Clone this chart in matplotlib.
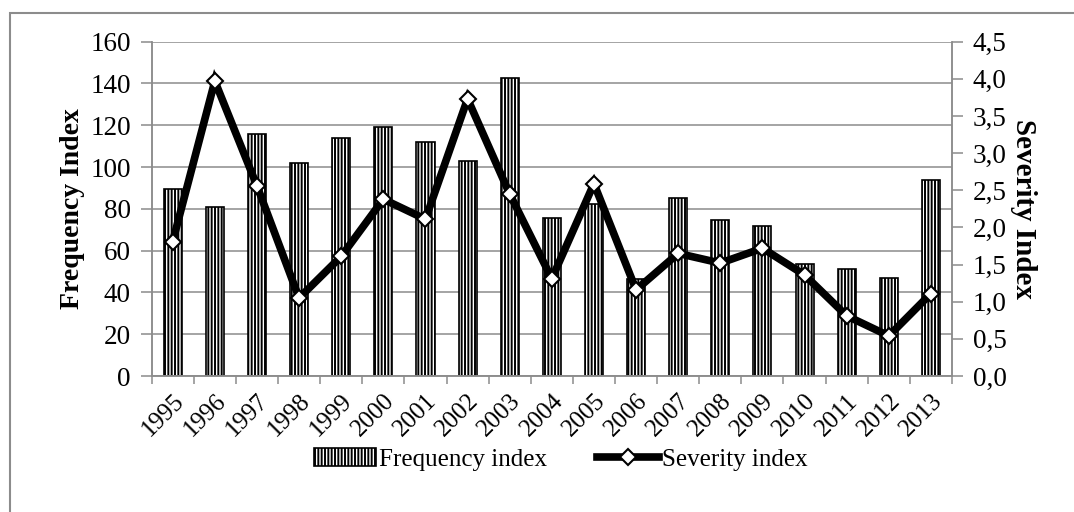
import numpy as np
import matplotlib
matplotlib.use("Agg")
import matplotlib.pyplot as plt
from matplotlib.patches import Rectangle
from matplotlib.ticker import FixedLocator, FuncFormatter

# yearly indices
years = ["1995", "1996", "1997", "1998", "1999", "2000", "2001", "2002", "2003", "2004",
         "2005", "2006", "2007", "2008", "2009", "2010", "2011", "2012", "2013"]
frequency = [89.5, 81, 116, 102, 114, 119, 112, 103, 142.5, 75.5,
             82.5, 46.5, 85, 74.5, 72, 53.5, 51, 47, 94]
severity = [1.81, 3.97, 2.56, 1.05, 1.61, 2.38, 2.11, 3.73, 2.45, 1.31,
            2.59, 1.16, 1.65, 1.52, 1.72, 1.36, 0.81, 0.54, 1.11]

left_ticks = [0, 20, 40, 60, 80, 100, 120, 140, 160]
right_ticks = [0.0, 0.5, 1.0, 1.5, 2.0, 2.5, 3.0, 3.5, 4.0, 4.5]

plt.rcParams["font.family"] = ["Liberation Serif", "DejaVu Serif"]
plt.rcParams["hatch.linewidth"] = 1.4
plt.rcParams["hatch.color"] = "black"

GRID = "#8c8c8c"

fig = plt.figure(figsize=(10.74, 5.12), dpi=100)
ax = fig.add_axes([0.1412, 0.2656, 0.7452, 0.653])
ax2 = ax.twinx()

x = np.arange(len(years))
ax.bar(x, frequency, width=0.43, color="white", edgecolor="black",
       linewidth=1.2, hatch="|||||", label="Frequency index", zorder=2)

ax2.plot(x, severity, color="black", lw=5.5, marker="D", ms=8,
         mfc="white", mec="black", mew=1.5, solid_joinstyle="miter",
         label="Severity index", zorder=3)

ax.set_xlim(-0.5, len(years) - 0.5)
ax.set_ylim(0, 160)
ax2.set_ylim(0, 4.5)

ax.yaxis.set_major_locator(FixedLocator(left_ticks))
ax2.yaxis.set_major_locator(FixedLocator(right_ticks))
ax2.yaxis.set_major_formatter(FuncFormatter(lambda v, p: f"{v:.1f}".replace(".", ",")))

ax.grid(axis="y", color=GRID, lw=1.1, zorder=0)
ax.set_axisbelow(True)

# category labels centred under bars, boundary ticks between them
ax.set_xticks(x)
ax.set_xticklabels(years, rotation=45, ha="right", va="top", rotation_mode="anchor")
ax.tick_params(axis="x", length=0, pad=10, labelsize=18)
ax.set_xticks(np.arange(-0.5, len(years)), minor=True)
ax.tick_params(axis="x", which="minor", length=6, width=1.1, color=GRID, direction="out")

ax.tick_params(axis="y", length=8, width=1.1, color=GRID, labelsize=19.5, pad=7)
ax2.tick_params(axis="y", length=8, width=1.1, color=GRID, labelsize=19.5, pad=7)

for a in (ax, ax2):
    a.spines["top"].set_visible(False)
    for side in ("left", "right", "bottom"):
        a.spines[side].set_color(GRID)
        a.spines[side].set_linewidth(1.1)

ax.set_ylabel("Frequency Index", fontsize=20, fontweight="bold", labelpad=4)
ax2.set_ylabel("Severity Index", fontsize=21, fontweight="bold", rotation=270, labelpad=22)

h1, l1 = ax.get_legend_handles_labels()
h2, l2 = ax2.get_legend_handles_labels()
fig.legend(h1 + h2, l1 + l2, loc="center", bbox_to_anchor=(0.522, 0.103),
           ncol=2, frameon=False, fontsize=18, handlelength=2.5,
           handletextpad=0.1, columnspacing=2.0)

# chart frame
fig.patches.append(Rectangle((10 / 1074, -0.1), 1.2, 1 - 13 / 512 + 0.1,
                             transform=fig.transFigure, fill=False,
                             edgecolor=GRID, lw=1.5))

fig.savefig("out.png", dpi=100)
